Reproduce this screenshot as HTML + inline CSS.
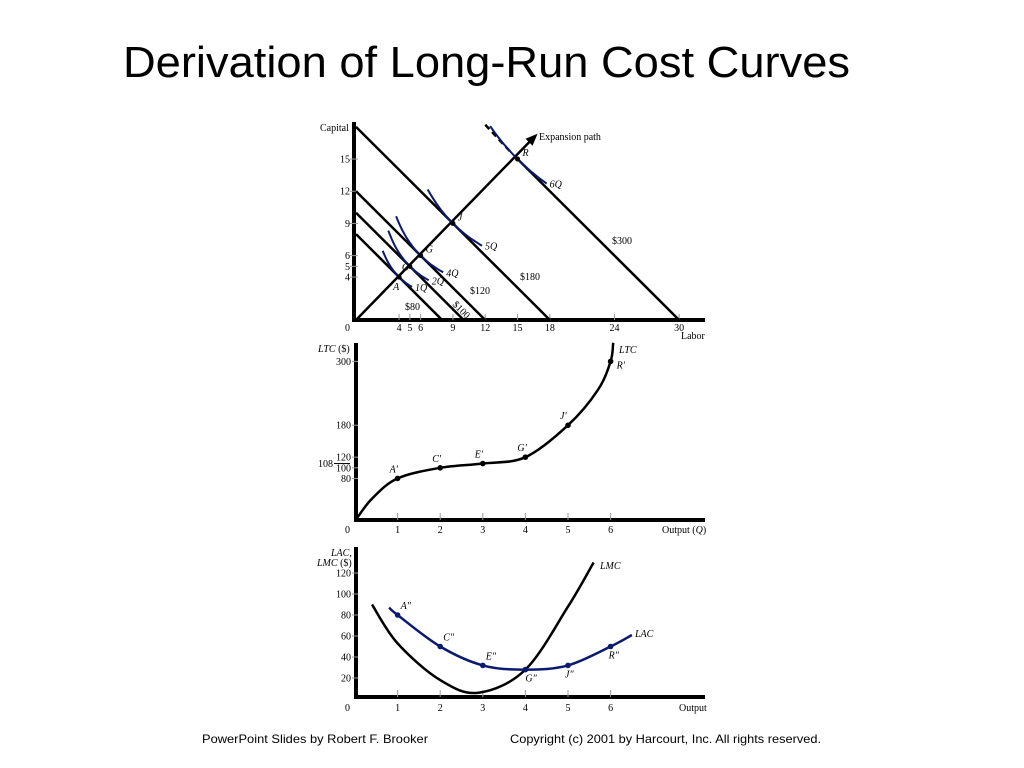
<!DOCTYPE html>
<html><head><meta charset="utf-8"><style>
html,body{margin:0;padding:0;background:#fff;}
svg{display:block;}
.t{font-family:"Liberation Serif",serif;font-size:10px;fill:#000;}
.i{font-style:italic;}
</style></head><body>
<svg id="s" width="1024" height="768" viewBox="0 0 1024 768">
<text x="123" y="77" font-family="Liberation Sans,sans-serif" font-size="44" textLength="727" lengthAdjust="spacingAndGlyphs">Derivation of Long-Run Cost Curves</text>
<text x="202" y="743" font-family="Liberation Sans,sans-serif" font-size="12" textLength="226" lengthAdjust="spacingAndGlyphs">PowerPoint Slides by Robert F. Brooker</text>
<text x="510" y="743" font-family="Liberation Sans,sans-serif" font-size="12" textLength="311" lengthAdjust="spacingAndGlyphs">Copyright (c) 2001 by Harcourt, Inc. All rights reserved.</text>
<g id="g1"></g>
<g id="g2"></g>
<g id="g3"></g>
</svg>
<script>
// ---- Top chart data
const laborTicks = [4,5,6,9,12,15,18,24,30];
const capitalTicks = [4,5,6,9,12,15];
const budgetCosts = ["$80","$100","$120","$180","$300"];
const budgetIntercepts = [8,10,12,18,30];
const isoLabels = ["1Q","2Q","4Q","5Q","6Q"];
const isoPoints = [4,5,6,9,15];
const isoPointNames = ["A","C","G","J","R"];
const isoLo = [0.62,0.6,0.62,0.74,0.83];
const isoHi = [1.3,1.35,1.35,1.3,1.18];
// ---- Middle chart data
const qTicks = [1,2,3,4,5,6];
const ltcTicks = [80,100,120,180,300];
const ltcCurveQ = [0,0.4,1,2,3,4,5,5.7,6,6.06];
const ltcCurveV = [0,42,80,100,108,120,180,246,300,335];
const ltcPointQ = [1,2,3,4,5,6];
const ltcPointV = [80,100,108,120,180,300];
const ltcPointNames = ["A′","C′","E′","G′","J′","R′"];
// ---- Bottom chart data
const lacTicks = [20,40,60,80,100,120];
const lacCurveQ = [0.8,1,2,3,4,5,6,6.5];
const lacCurveV = [87,80,50,32,28,32,50,61];
const lacPointNames = ["A″","C″","E″","G″","J″","R″"];
const lacPointQ = [1,2,3,4,5,6];
const lacPointV = [80,50,32,28,32,50];
const lmcCurveQ = [0.4,1,2,2.9,4,5,5.6];
const lmcCurveV = [90,53,18,6,28,88,130];

const NS="http://www.w3.org/2000/svg";
function mk(parent,tag,attrs,text){const e=document.createElementNS(NS,tag);for(const k in attrs)e.setAttribute(k,attrs[k]);if(text!==undefined)e.textContent=text;parent.appendChild(e);return e;}
function smooth(pts){let d="M"+pts[0][0].toFixed(1)+","+pts[0][1].toFixed(1);for(let i=0;i<pts.length-1;i++){const p0=pts[i-1]||pts[i],p1=pts[i],p2=pts[i+1],p3=pts[i+2]||p2;const c1=[p1[0]+(p2[0]-p0[0])/6,p1[1]+(p2[1]-p0[1])/6],c2=[p2[0]-(p3[0]-p1[0])/6,p2[1]-(p3[1]-p1[1])/6];d+=" C"+c1.map(v=>v.toFixed(1)).join(",")+" "+c2.map(v=>v.toFixed(1)).join(",")+" "+p2.map(v=>v.toFixed(1)).join(",");}return d;}

// ===== Top chart
const g1=document.getElementById('g1');
const X1=L=>356+L*10.77, Y1=K=>320-K*10.73;
let e;
e=mk(g1,'line',{x1:354,y1:122,x2:354,y2:322,stroke:'#000','stroke-width':4});

e=mk(g1,'line',{x1:352,y1:320,x2:705,y2:320,stroke:'#000','stroke-width':4});

mk(g1,'text',{x:320,y:131,class:'t'},'Capital');
mk(g1,'text',{x:681,y:339,class:'t'},'Labor');
mk(g1,'text',{x:345,y:331,class:'t'},'0');
laborTicks.forEach(L=>{mk(g1,'line',{x1:X1(L),y1:314,x2:X1(L),y2:320,stroke:'#999','stroke-width':1});
 e=mk(g1,'text',{x:X1(L),y:331,class:'t','text-anchor':'middle'},String(L));
 });
capitalTicks.forEach(K=>{mk(g1,'line',{x1:350,y1:Y1(K),x2:358,y2:Y1(K),stroke:'#999','stroke-width':1});
 e=mk(g1,'text',{x:350,y:Y1(K)+3.5,class:'t','text-anchor':'end'},String(K));
 });
budgetIntercepts.forEach((b,i)=>{let k0=Math.min(b,18.2);let L0=b-k0;
 if(b===30){k0=15;L0=15;}
 e=mk(g1,'line',{x1:X1(L0),y1:Y1(k0),x2:X1(b),y2:Y1(0),stroke:'#000','stroke-width':2.5});
 });
e=mk(g1,'line',{x1:X1(12),y1:Y1(18.2),x2:X1(14.5),y2:Y1(15.5),stroke:'#000','stroke-width':2.5,'stroke-dasharray':'6,4'});

const bl=[[405,310,0],[452,305,45],[470,294,0],[520,280,0],[612,244,0]];
budgetCosts.forEach((c,i)=>{e=mk(g1,'text',{x:bl[i][0],y:bl[i][1],class:'t',transform:bl[i][2]?`rotate(45 ${bl[i][0]} ${bl[i][1]})`:''},c);
 });
e=mk(g1,'line',{x1:X1(0),y1:Y1(0),x2:X1(16.3),y2:Y1(16.8),stroke:'#000','stroke-width':2.5});

mk(g1,'polygon',{points:`${X1(16.3)+6},${Y1(16.8)-6} ${X1(16.3)-6},${Y1(16.8)-1} ${X1(16.3)+1},${Y1(16.8)+6}`,fill:'#000'});
mk(g1,'text',{x:539,y:140,class:'t'},'Expansion path');
isoPoints.forEach((k,i)=>{const pts=[];const lo=k*isoLo[i],hi=k*isoHi[i];for(let j=0;j<=12;j++){const L=lo+(hi-lo)*j/12;pts.push([X1(L),Y1(k*k/L)]);}
 e=mk(g1,'path',{d:smooth(pts),fill:'none',stroke:'#0a1a6e','stroke-width':2});
 
 e=mk(g1,'circle',{cx:X1(k),cy:Y1(k),r:2.5,fill:'#000'});
 
 mk(g1,'text',{x:X1(k)+(i===1?-8:(i===0?-6:5)),y:Y1(k)+(i===0?13:(i===1?4:-3)),class:'t i'},isoPointNames[i]);
 mk(g1,'text',{x:X1(hi)+3,y:Y1(k*k/hi)+4,class:'t i'},isoLabels[i]);});

// ===== Middle chart
const g2=document.getElementById('g2');
const X2=q=>355+q*42.6, Y2=v=>521-v*0.532;
e=mk(g2,'line',{x1:356,y1:343,x2:356,y2:522,stroke:'#000','stroke-width':4});

e=mk(g2,'line',{x1:354,y1:520,x2:705,y2:520,stroke:'#000','stroke-width':4});

mk(g2,'text',{x:318,y:352,class:'t'},'').innerHTML='<tspan font-style="italic">LTC</tspan> ($)';
mk(g2,'text',{x:662,y:533,class:'t'},'').innerHTML='Output (<tspan font-style="italic">Q</tspan>)';
mk(g2,'text',{x:345,y:533,class:'t'},'0');
qTicks.forEach(q=>{mk(g2,'line',{x1:X2(q),y1:513,x2:X2(q),y2:520,stroke:'#999'});
 e=mk(g2,'text',{x:X2(q),y:533,class:'t','text-anchor':'middle'},String(q));
 });
ltcTicks.forEach(v=>{mk(g2,'line',{x1:352,y1:Y2(v),x2:358,y2:Y2(v),stroke:'#999'});
 e=mk(g2,'text',{x:351,y:Y2(v)+3.5,class:'t','text-anchor':'end'},String(v));
 });
mk(g2,'text',{x:318,y:Y2(108)+3.5,class:'t'},'108');
mk(g2,'line',{x1:334,y1:Y2(108),x2:350,y2:Y2(108),stroke:'#000'});
e=mk(g2,'path',{d:smooth(ltcCurveQ.map((q,i)=>[X2(q),Y2(ltcCurveV[i])])),fill:'none',stroke:'#000','stroke-width':2.5});

mk(g2,'text',{x:619,y:353,class:'t i'},'LTC');
ltcPointQ.forEach((q,i)=>{e=mk(g2,'circle',{cx:X2(q),cy:Y2(ltcPointV[i]),r:2.8,fill:'#000'});
 
 const dx=i===5?6:-8,dy=i===5?7:-6;
 mk(g2,'text',{x:X2(q)+dx,y:Y2(ltcPointV[i])+dy,class:'t i'},ltcPointNames[i]);});

// ===== Bottom chart
const g3=document.getElementById('g3');
const X3=q=>355+q*42.6, Y3=v=>699-v*1.05;
e=mk(g3,'line',{x1:356,y1:547,x2:356,y2:699,stroke:'#000','stroke-width':4});

e=mk(g3,'line',{x1:354,y1:697,x2:705,y2:697,stroke:'#000','stroke-width':4});

mk(g3,'text',{x:331,y:556,class:'t i'},'LAC,');
mk(g3,'text',{x:317,y:566,class:'t'},'').innerHTML='<tspan font-style="italic">LMC</tspan> ($)';
mk(g3,'text',{x:679,y:711,class:'t'},'Output');
mk(g3,'text',{x:345,y:711,class:'t'},'0');
qTicks.forEach(q=>{mk(g3,'line',{x1:X3(q),y1:690,x2:X3(q),y2:697,stroke:'#999'});
 e=mk(g3,'text',{x:X3(q),y:711,class:'t','text-anchor':'middle'},String(q));
 });
lacTicks.forEach(v=>{mk(g3,'line',{x1:352,y1:Y3(v),x2:358,y2:Y3(v),stroke:'#999'});
 e=mk(g3,'text',{x:351,y:Y3(v)+3.5,class:'t','text-anchor':'end'},String(v));
 });
e=mk(g3,'path',{d:smooth(lmcCurveQ.map((q,i)=>[X3(q),Y3(lmcCurveV[i])])),fill:'none',stroke:'#000','stroke-width':2.5});

e=mk(g3,'path',{d:smooth(lacCurveQ.map((q,i)=>[X3(q),Y3(lacCurveV[i])])),fill:'none',stroke:'#0a1a6e','stroke-width':2.5});

mk(g3,'text',{x:600,y:569,class:'t i'},'LMC');
mk(g3,'text',{x:635,y:637,class:'t i'},'LAC');
lacPointQ.forEach((q,i)=>{e=mk(g3,'circle',{cx:X3(q),cy:Y3(lacPointV[i]),r:2.8,fill:'#0a1a6e'});
 
 const below=(i===3||i===4||i===5);
 mk(g3,'text',{x:X3(q)+(below?(i===3?0:(i===5?-2:-3)):3),y:Y3(lacPointV[i])+(below?12:-6),class:'t i'},lacPointNames[i]);});
</script>
</body></html>
